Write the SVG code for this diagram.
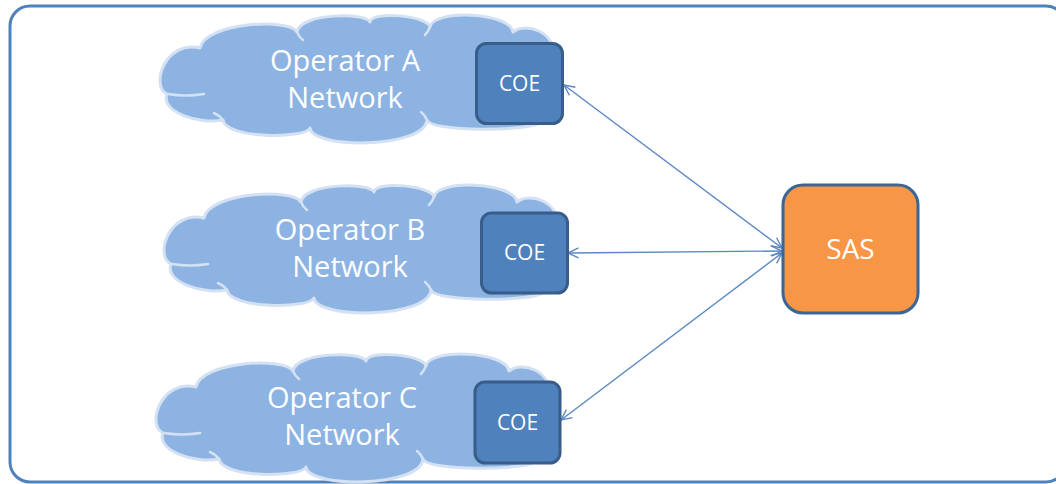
<svg xmlns="http://www.w3.org/2000/svg" width="1056" height="484" viewBox="0 0 1056 484">
<style>
.frame{fill:#ffffff;stroke:#4F81BD;stroke-width:3}
.cloud{fill:#8DB3E2;stroke:#D3E1F3;stroke-width:3;stroke-linejoin:round}
.inner{fill:none;stroke:#D3E1F3;stroke-width:2.5;stroke-linecap:round}
.coe{fill:#4F81BD;stroke:#385D8A;stroke-width:3}
.sas{fill:#F79646;stroke:#3B6594;stroke-width:3}
.lbl{fill:#ffffff;font-family:"Open Sans","Liberation Sans",sans-serif;text-anchor:middle}
.big{font-size:29px}
.small{font-size:21px}
.conn{stroke:#5B87C2;stroke-width:1.4;fill:none;marker-start:url(#arr);marker-end:url(#arr)}
</style>
<defs>
<marker id="arr" viewBox="0 0 12 12" refX="11.5" refY="6" markerWidth="12" markerHeight="12" markerUnits="userSpaceOnUse" orient="auto-start-reverse">
<path d="M1,1 L11.5,6 L1,11" fill="none" stroke="#5B87C2" stroke-width="1.4"/>
</marker>
<g id="cloudShape">
<path class="cloud" d="M167 94 C150 86 165 40 200 48 C205 22 290 18 297 32 C300 13 366 12 370 22 C372 10 428 16 430 27 C433 9 510 12 513 32 C525 22 556 30 555 60 C560 80 558 112 540 122 C532 132 430 132 427 120 C424 149 312 149 310 128 C305 139 226 139 223 120 C200 125 160 112 167 94 Z"/>
<path class="inner" d="M168 94 Q186 97 204 94 M223 120 Q219 115 214 113 M297 32 Q299 37 303 40 M430 27 Q428 32 425 35 M427 120 Q425 115 421 112"/>
</g>
</defs>
<rect class="frame" x="10" y="6" width="1056" height="476" rx="20"/>
<g id="connectors">
<line class="conn" x1="564" y1="85" x2="782" y2="248"/>
<line class="conn" x1="568" y1="253" x2="782" y2="251"/>
<line class="conn" x1="561" y1="420" x2="782" y2="253"/>
</g>
<g id="operatorA">
<use href="#cloudShape"/>
<text class="lbl big" x="345" y="71">Operator A</text>
<text class="lbl big" x="345" y="108">Network</text>
</g>
<g id="coeA">
<rect class="coe" x="476.5" y="43.5" width="86" height="80" rx="10"/>
<text class="lbl small" x="519.5" y="91">COE</text>
</g>
<g id="operatorB">
<use href="#cloudShape" transform="translate(4,170)"/>
<text class="lbl big" x="350" y="240">Operator B</text>
<text class="lbl big" x="350" y="277">Network</text>
</g>
<g id="coeB">
<rect class="coe" x="481.5" y="213" width="86" height="80" rx="10"/>
<text class="lbl small" x="524.5" y="260">COE</text>
</g>
<g id="operatorC">
<use href="#cloudShape" transform="translate(-4,339)"/>
<text class="lbl big" x="342" y="408">Operator C</text>
<text class="lbl big" x="342" y="445">Network</text>
</g>
<g id="coeC">
<rect class="coe" x="475" y="382" width="85" height="81" rx="10"/>
<text class="lbl small" x="517.5" y="430">COE</text>
</g>
<g id="sas">
<rect class="sas" x="783" y="185" width="135" height="128" rx="20"/>
<text class="lbl" style="font-size:28px" x="850.5" y="259">SAS</text>
</g>
</svg>
